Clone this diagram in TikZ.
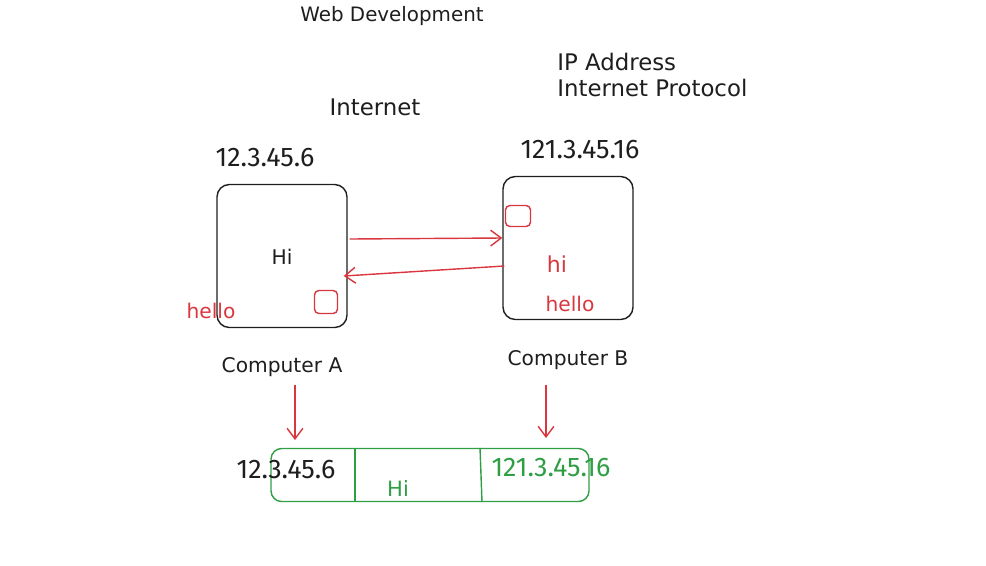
\documentclass[tikz,border=0pt]{standalone}
\usepackage{fontspec}
\setmainfont{DejaVu Sans}
\newfontfamily\ipfont{Fira Sans}
\usetikzlibrary{positioning}
\usetikzlibrary{arrows.meta}
\usetikzlibrary{calc}
\definecolor{inkred}{HTML}{D9363E}
\definecolor{inkgreen}{HTML}{2F9E44}
\definecolor{inkblack}{HTML}{1E1E1E}
\tikzset{
    mynote/.style = {inner sep=0pt, font=\fontsize{11.5}{14}\selectfont, text=inkblack},
    mynotewide/.style = {inner sep=0pt, font=\fontsize{13}{15}\selectfont, text=inkblack},
    mynotebig/.style = {inner sep=0pt, font=\ipfont\fontsize{15.3}{17}\selectfont, text=inkblack},
    mynoter/.style = {inner sep=0pt, font=\fontsize{11.5}{14}\selectfont, text=inkred},
    mynoteg/.style = {inner sep=0pt, font=\fontsize{12}{15}\selectfont, text=inkgreen},
    mybox/.style = {draw=inkblack, thick, rounded corners=7pt, minimum width=2.6cm, minimum height=2.86cm},
    myport/.style = {draw=inkred, thick, rounded corners=2.5pt, minimum width=0.46cm, minimum height=0.46cm},
    mypacket/.style = {draw=inkgreen, thick, rounded corners=6pt, minimum width=6.36cm, minimum height=1.06cm},
    edger/.style = {-{Straight Barb[length=6pt,width=9pt]}, thick, inkred},
    edgeg/.style = {-, thick, inkgreen}
}

\begin{document}
\begin{tikzpicture}[x=0.02cm, y=-0.02cm]
  \useasboundingbox (0,0) rectangle (986,565);

  % titles
  \node[mynote, font=\fontsize{11.3}{14}\selectfont] (title) at (392,16) {Web Development};
  \node[mynotewide, anchor=west] (ipaddr) at (557,62) {IP Address};
  \node[mynotewide, anchor=west] (ipproto) at (557,88) {Internet Protocol};
  \node[mynotewide] (net) at (375,107) {Internet};

  % computers
  \node[mybox] (boxA) at (282,256) {};
  \node[mybox] (boxB) at (568,248) {};
  \node[mynotebig] (ipA) at (265,158) {12.3.45.6};
  \node[mynotebig] (ipB) at (580,150) {121.3.45.16};
  \node[mynote] (msgA) at (282,257) {Hi};
  \node[myport] (portA) at (326,302) {};
  \node[myport, minimum width=0.5cm, minimum height=0.42cm] (portB) at (518,216) {};
  \node[mynoter] (helloA) at (211,311) {hello};
  \node[mynoter, font=\fontsize{12.5}{15}\selectfont] (hiB) at (557,264) {hi};
  \node[mynoter] (helloB) at (570,304) {hello};
  \node[mynote] (compA) at (282,367) {Computer A};
  \node[mynote] (compB) at (568,360) {Computer B};

  % messages
  \draw[edger] ($(boxA.east)+(2,-17)$) -- ($(boxB.west)+(0,-10)$);
  \draw[edger] ($(boxB.west)+(2,18)$) -- ($(boxA.east)+(-4,20)$);

  % packet
  \node[mypacket] (packet) at (430,475) {};
  \draw[edgeg] (packet.north -| 355,0) -- (packet.south -| 355,0);
  \draw[edgeg] (packet.north -| 480,0) -- (packet.south -| 482,0);
  \node[mynotebig] (srcip) at (286,470) {12.3.45.6};
  \node[mynoteg] (payload) at (398,488) {Hi};
  \node[mynotebig, text=inkgreen] (dstip) at (551,468) {121.3.45.16};

  \coordinate (inA) at (295,440);
  \coordinate (inB) at (546,438);
  \draw[edger] (compA.south -| 295,0) ++(0,8) -- (inA);
  \draw[edger] (compB.south -| 546,0) ++(0,15) -- (inB);
\end{tikzpicture}
\end{document}
